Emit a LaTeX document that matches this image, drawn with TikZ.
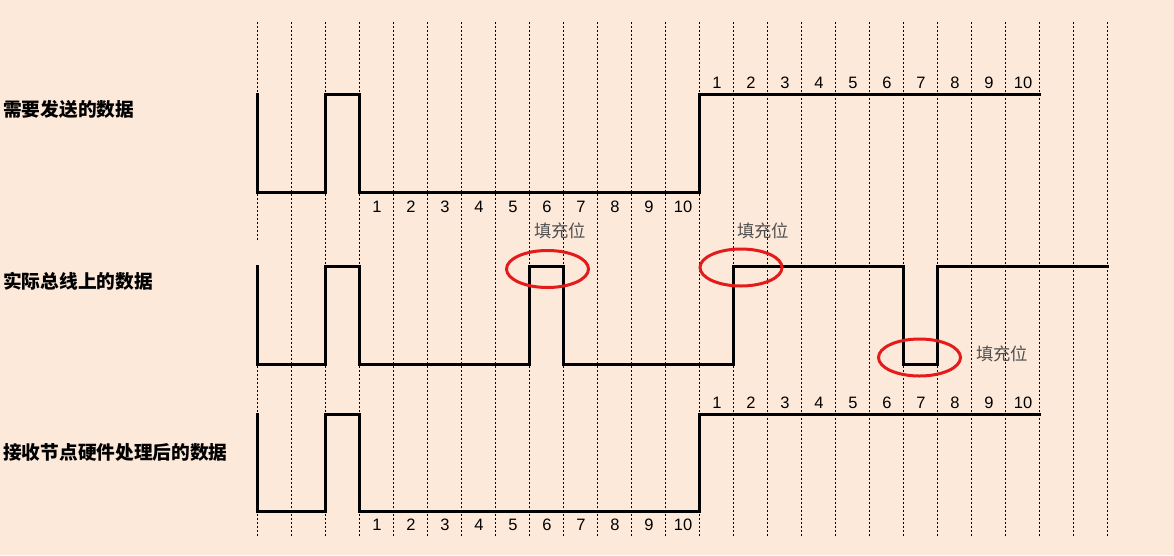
\documentclass[tikz,border=0pt]{standalone}
\usepackage{fontspec}
\setmainfont{Liberation Sans}
\newfontfamily\cjk{Noto Sans CJK SC}
\definecolor{bgpeach}{HTML}{FDE9DA}
\definecolor{ringred}{HTML}{E31B1B}
\definecolor{notegray}{HTML}{505050}
\begin{document}
\begin{tikzpicture}[x=1pt,y=-1pt,
  grid/.style={line width=1pt,dash pattern=on 2pt off 2pt,black},
  wave/.style={line width=3pt,black,line join=miter,line cap=rect},
  ring/.style={line width=3pt,ringred},
  num/.style={font=\fontsize{16.5}{16.5}\selectfont,inner sep=0pt,anchor=center},
  rowlabel/.style={font=\cjk\bfseries\fontsize{18.7}{18.7}\selectfont,anchor=west,inner sep=0pt},
  note/.style={font=\cjk\fontsize{17.3}{17.3}\selectfont,text=notegray,inner sep=0pt,anchor=center}]
\fill[bgpeach] (0,0) rectangle (1174,555);
\useasboundingbox (0,0) rectangle (1174,555);
% dashed grid
\draw[grid] (257.5,22) -- (257.5,240);
\draw[grid] (257.5,266) -- (257.5,536);
\foreach \k in {1,...,25} {
  \draw[grid] ({257.5+34*\k},22) -- ({257.5+34*\k},536);
}
% row labels
\node[rowlabel] (l1) at (3,109) {需要发送的数据};
\node[rowlabel] (l2) at (3,281) {实际总线上的数据};
\node[rowlabel] (l3) at (3,452) {接收节点硬件处理后的数据};
% waveform 1
\draw[wave] (257.5,94) -- (257.5,192) -- (325.5,192) -- (325.5,94) -- (359.5,94) -- (359.5,192) -- (699.5,192) -- (699.5,94) -- (1039.5,94);
% waveform 2
\draw[wave] (257.5,266) -- (257.5,364) -- (325.5,364) -- (325.5,266) -- (359.5,266) -- (359.5,364) -- (529.5,364) -- (529.5,266) -- (563.5,266) -- (563.5,364) -- (733.5,364) -- (733.5,266) -- (903.5,266) -- (903.5,364) -- (937.5,364) -- (937.5,266) -- (1107.5,266);
% waveform 3
\draw[wave] (257.5,414) -- (257.5,511) -- (325.5,511) -- (325.5,414) -- (359.5,414) -- (359.5,511) -- (699.5,511) -- (699.5,414) -- (1039.5,414);
% numbers
\foreach \i in {1,...,10} {
  \node[num] (a\i) at ({377+34*(\i-1)},207) {\i};
  \node[num] (b\i) at ({717+34*(\i-1)},83) {\i};
  \node[num] (c\i) at ({377+34*(\i-1)},525) {\i};
  \node[num] (d\i) at ({717+34*(\i-1)},403) {\i};
}
% stuffing bits
\draw[ring] (547.5,269) ellipse [x radius=41, y radius=18.5];
\draw[ring] (741,267.5) ellipse [x radius=41, y radius=18.5];
\draw[ring] (919.5,357.5) ellipse [x radius=41, y radius=18.5];
\node[note] (n1) at (560,231) {填充位};
\node[note] (n2) at (763,231) {填充位};
\node[note] (n3) at (1002,354) {填充位};
\end{tikzpicture}
\end{document}
